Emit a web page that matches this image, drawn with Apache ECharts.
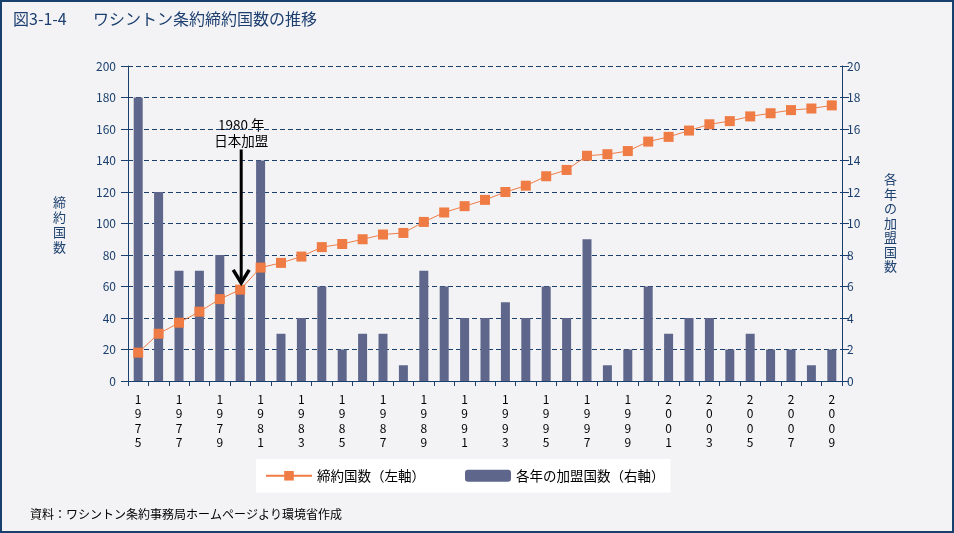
<!DOCTYPE html>
<html><head><meta charset="utf-8">
<style>
html,body{margin:0;padding:0;background:#f3f3f5;}
#wrap{position:relative;width:954px;height:533px;box-sizing:border-box;border:2px solid #17406f;background:#f3f3f5;}
#chart{position:absolute;left:-2px;top:-2px;width:954px;height:533px;}
</style>
<script src="https://cdn.jsdelivr.net/npm/echarts@6/dist/echarts.min.js"></script>
</head><body>
<div id="wrap"><div id="chart"></div></div>
<script>
const years = ['1975','1976','1977','1978','1979','1980','1981','1982','1983','1984','1985','1986','1987','1988','1989','1990','1991','1992','1993','1994','1995','1996','1997','1998','1999','2000','2001','2002','2003','2004','2005','2006','2007','2008','2009'];
const cumulative = [18,30,37,44,52,58,72,75,79,85,87,90,93,94,101,107,111,115,120,124,130,134,143,144,146,152,155,159,163,165,168,170,172,173,175];
const joined = [18,12,7,7,8,6,14,3,4,6,2,3,3,1,7,6,4,4,5,4,6,4,9,1,2,6,3,4,4,2,3,2,2,1,2];
const leftTicks = {min:0, max:200, interval:20};
const rightTicks = {min:0, max:20, interval:2};
const navy = '#1b3f6d';
const font = '"Noto Sans CJK JP", sans-serif';

const chart = echarts.init(document.getElementById('chart'));
const option = {
  backgroundColor: 'transparent',
  textStyle: {fontFamily: font},
  animation: false,
  grid: {left: 128, right: 112, top: 66, bottom: 152},
  legend: {
    left: 256, top: 459, backgroundColor: '#ffffff', padding: [10, 6, 10, 9],
    itemWidth: 46, itemHeight: 12, itemGap: 40,
    textStyle: {fontSize: 13.5, color: '#000', fontFamily: font},
    data: ['締約国数（左軸）', '各年の加盟国数（右軸）']
  },
  xAxis: {
    type: 'category', data: years, boundaryGap: true,
    axisLine: {lineStyle: {color: navy, width: 1}},
    axisTick: {show: true, interval: 0, length: 5, lineStyle: {color: navy}},
    axisLabel: {
      interval: 1, color: '#000', fontSize: 12, lineHeight: 14.5, margin: 11,
      fontFamily: font,
      formatter: v => v.split('').join('\n')
    }
  },
  yAxis: [
    {
      type: 'value', min: leftTicks.min, max: leftTicks.max, interval: leftTicks.interval,
      axisLine: {show: true, lineStyle: {color: navy}},
      axisTick: {show: true, length: 7, lineStyle: {color: navy}},
      axisLabel: {color: navy, fontSize: 12, margin: 12, fontFamily: font},
      splitLine: {show: true, lineStyle: {color: navy, type: [5, 3], width: 1}}
    },
    {
      type: 'value', min: rightTicks.min, max: rightTicks.max, interval: rightTicks.interval,
      position: 'right',
      axisLine: {show: true, lineStyle: {color: navy}},
      axisTick: {show: true, length: 7, lineStyle: {color: navy}},
      axisLabel: {color: navy, fontSize: 12, margin: 5, fontFamily: font},
      splitLine: {show: false}
    }
  ],
  series: [
    {
      name: '各年の加盟国数（右軸）', type: 'bar', yAxisIndex: 1, data: joined,
      barWidth: 9, itemStyle: {color: '#5e678b'}, z: 2
    },
    {
      name: '締約国数（左軸）', type: 'line', yAxisIndex: 0, data: cumulative,
      symbol: 'rect', symbolSize: 10, showSymbol: true,
      lineStyle: {color: '#ef7b45', width: 1},
      itemStyle: {color: '#ef7b45'}, z: 3
    }
  ],
  graphic: [
    {type: 'text', left: 13, top: 11, style: {text: '図3-1-4', fontSize: 16, fill: '#1c3f70', fontFamily: font}},
    {type: 'text', left: 93, top: 11, style: {text: 'ワシントン条約締約国数の推移', fontSize: 16, fill: '#1c3f70', fontFamily: font, letterSpacing: 0.7}},
    {type: 'text', left: 53, top: 195, style: {text: '締\n約\n国\n数', fontSize: 13, lineHeight: 15, fill: navy, fontFamily: font}},
    {type: 'text', left: 884, top: 172, style: {text: '各\n年\nの\n加\n盟\n国\n数', fontSize: 13, lineHeight: 14.5, fill: navy, fontFamily: font}},
    {type: 'text', left: 30, top: 508, style: {text: '資料：ワシントン条約事務局ホームページより環境省作成', fontSize: 12, fill: '#000', fontFamily: font}}
  ]
};
chart.setOption(option);

// annotation anchored to data coordinates
const pTop = chart.convertToPixel({xAxisIndex: 0, yAxisIndex: 0}, ['1980', 147]);
const pTip = chart.convertToPixel({xAxisIndex: 0, yAxisIndex: 0}, ['1980', 61]);
const ax = pTop[0] + 1;
chart.setOption({
  graphic: option.graphic.concat([
    {type: 'text', style: {text: '1980 年', x: ax, y: pTop[1] - 18, fontSize: 13.5, fill: '#000', align: 'center', verticalAlign: 'bottom', fontFamily: font}},
    {type: 'text', style: {text: '日本加盟', x: ax, y: pTop[1] - 2, fontSize: 13.5, fill: '#000', align: 'center', verticalAlign: 'bottom', fontFamily: font}},
    {type: 'line', shape: {x1: ax, y1: pTop[1], x2: ax, y2: pTip[1] - 2}, style: {stroke: '#000', lineWidth: 3}, z: 10},
    {type: 'polyline', shape: {points: [[ax - 8, pTip[1] - 15], [ax, pTip[1] - 2], [ax + 8, pTip[1] - 15]]}, style: {stroke: '#000', lineWidth: 3.5, fill: null}, z: 10}
  ])
});
</script>
</body></html>
